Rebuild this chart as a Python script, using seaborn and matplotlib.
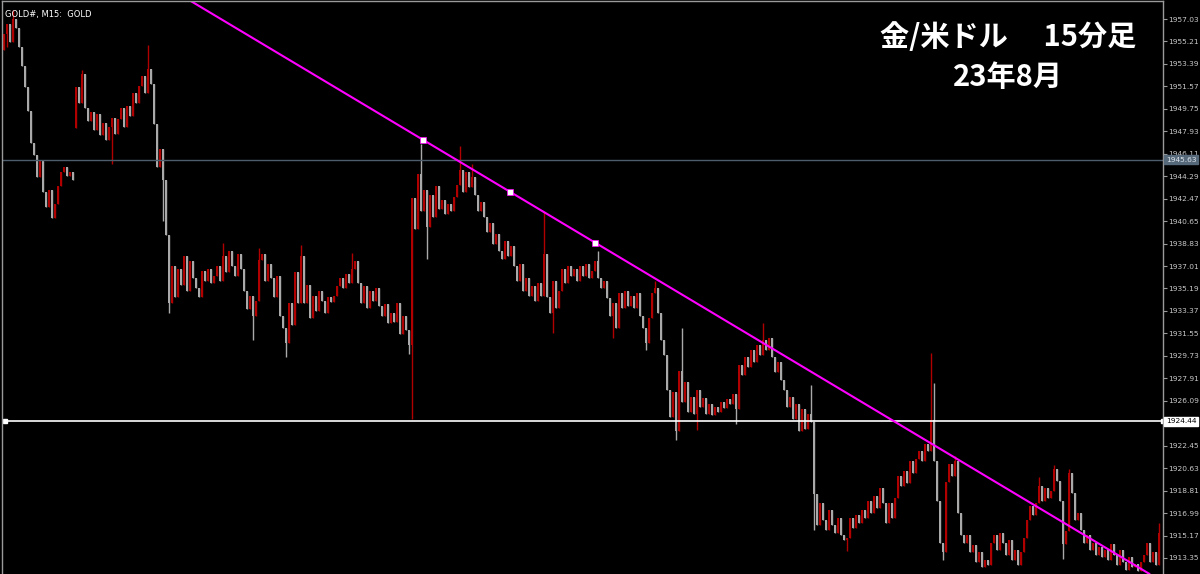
import numpy as np
import matplotlib.pyplot as plt
import seaborn as sns

# GOLD M15 candles (one close per candle, 3px apart)
first_open = 1954.5
closes = [
    1955.8, 1956.6, 1955.2, 1957.0, 1956.3, 1954.8, 1953.2, 1951.5, 1949.6, 1947.0,
    1946.0, 1944.2, 1945.5, 1943.0, 1941.8, 1943.2, 1940.9, 1942.0, 1943.5, 1944.6,
    1945.0, 1944.3, 1944.6, 1944.0, 1951.5, 1950.2, 1952.6, 1949.8, 1948.8, 1949.5,
    1948.0, 1949.3, 1947.6, 1948.6, 1947.2, 1948.3, 1949.0, 1947.7, 1948.9, 1949.8,
    1948.3, 1950.0, 1949.2, 1951.0, 1950.2, 1951.6, 1952.4, 1951.0, 1953.0, 1951.8,
    1948.5, 1945.0, 1946.5, 1944.0, 1939.5, 1934.0, 1937.0, 1934.5, 1936.8, 1935.5,
    1937.8, 1935.0, 1937.4, 1936.0, 1935.2, 1934.5, 1936.6, 1935.8, 1936.8, 1935.6,
    1936.2, 1937.0, 1935.8, 1937.8, 1936.5, 1938.2, 1937.0, 1936.2, 1938.0, 1936.8,
    1935.0, 1933.5, 1934.6, 1933.0, 1934.2, 1937.5, 1938.0, 1935.8, 1937.2, 1936.0,
    1934.5, 1936.2, 1933.0, 1932.0, 1930.8, 1934.0, 1932.2, 1936.5, 1934.0, 1937.8,
    1934.0, 1935.5, 1932.8, 1934.6, 1933.4, 1935.0, 1934.2, 1933.2, 1934.5, 1934.1,
    1934.6, 1935.4, 1936.0, 1935.2, 1936.4, 1935.6, 1936.8, 1937.4, 1935.6, 1934.0,
    1935.4, 1933.6, 1935.0, 1934.2, 1935.2, 1933.8, 1933.0, 1933.9, 1932.4, 1933.2,
    1932.5, 1934.0, 1931.5, 1933.0, 1931.8, 1930.6, 1942.5, 1940.0, 1944.5, 1941.5,
    1943.2, 1940.2, 1942.8, 1941.0, 1943.5, 1941.6, 1942.4, 1941.2, 1942.0, 1941.5,
    1942.6, 1943.6, 1944.8, 1943.0, 1944.6, 1943.4, 1944.2, 1942.8, 1941.5, 1942.2,
    1941.0, 1939.8, 1940.5, 1938.8, 1939.6, 1938.2, 1937.6, 1939.0, 1937.8, 1938.6,
    1937.0, 1935.8, 1937.2, 1935.0, 1936.0, 1934.6, 1935.4, 1934.2, 1935.6, 1934.6,
    1938.0, 1934.5, 1933.2, 1935.8, 1933.6, 1935.0, 1936.8, 1935.6, 1937.0, 1936.2,
    1936.8, 1935.8, 1937.0, 1936.2, 1937.2, 1936.0, 1936.6, 1937.4, 1936.0, 1935.2,
    1935.8, 1934.4, 1933.0, 1934.0, 1932.0, 1934.8, 1933.6, 1935.0, 1933.8, 1934.6,
    1933.6, 1934.8, 1933.0, 1932.0, 1930.8, 1932.8, 1934.8, 1935.2, 1933.2, 1931.0,
    1929.8, 1927.0, 1924.8, 1926.8, 1923.6, 1928.5, 1926.0, 1927.6, 1925.2, 1926.4,
    1925.0, 1927.0, 1925.6, 1926.3, 1925.0, 1925.8, 1924.9, 1925.6, 1925.2, 1926.0,
    1925.5, 1926.2, 1925.8, 1926.6, 1925.4, 1929.0, 1928.2, 1929.6, 1928.8, 1930.2,
    1929.2, 1930.6, 1929.8, 1931.0, 1930.2, 1931.2, 1929.6, 1928.4, 1929.2, 1927.8,
    1927.0, 1925.6, 1926.4, 1924.6, 1925.8, 1923.6, 1925.4, 1923.8, 1925.0, 1924.4,
    1918.5, 1916.0, 1917.8, 1916.4, 1915.6, 1917.2, 1916.0, 1915.4, 1916.6, 1915.2,
    1914.8, 1915.0, 1916.6, 1915.8, 1916.8, 1916.2, 1917.2, 1916.6, 1918.0, 1917.0,
    1918.4, 1917.4, 1919.0, 1917.8, 1916.2, 1917.8, 1916.6, 1918.2, 1920.0, 1919.2,
    1920.4, 1919.4, 1921.2, 1920.2, 1921.4, 1922.0, 1921.2, 1922.6, 1922.0, 1924.5,
    1921.2, 1918.0, 1914.6, 1913.8, 1919.5, 1921.0, 1920.0, 1921.2, 1917.0, 1915.2,
    1914.6, 1915.2, 1913.8, 1914.4, 1913.0, 1913.8, 1912.6, 1913.2, 1912.8, 1914.6,
    1915.2, 1914.0, 1915.4, 1914.6, 1913.6, 1914.8, 1913.2, 1914.0, 1912.8, 1913.8,
    1915.0, 1916.4, 1917.6, 1916.8, 1917.8, 1919.2, 1918.0, 1919.0, 1918.2, 1918.8,
    1920.6, 1919.6, 1918.0, 1914.5, 1915.5, 1920.2, 1918.6, 1916.4, 1917.0, 1915.6,
    1914.6, 1915.2, 1914.0, 1914.6, 1913.6, 1914.2, 1913.4, 1914.0, 1913.2, 1914.5,
    1913.6, 1912.8, 1914.0, 1913.0, 1912.4, 1913.4, 1912.6, 1912.9, 1912.3, 1913.0,
    1913.6, 1914.6, 1913.0, 1913.8, 1912.8, 1915.4,
]
# opens that don't follow the previous close (price gap)
open_gaps = {24: 1948.2}
# long wicks
high_spikes = {3: 1957.8, 26: 1952.9, 48: 1954.9, 73: 1938.9, 85: 1938.5, 99: 1938.7,
               116: 1938.1, 139: 1946.9, 152: 1946.7, 156: 1945.3, 180: 1941.4,
               198: 1938.2, 217: 1935.8, 226: 1932.0, 253: 1932.4, 269: 1927.4,
               309: 1930.0, 310: 1927.5, 317: 1921.6, 345: 1919.9, 350: 1920.9,
               355: 1920.6, 385: 1916.2}
low_spikes = {1: 1954.8, 36: 1945.3, 53: 1940.7, 55: 1933.2, 83: 1931.0, 94: 1929.6,
              135: 1929.9, 136: 1924.6, 141: 1937.6, 183: 1931.6, 203: 1931.2,
              214: 1930.2, 224: 1922.9, 231: 1923.7, 244: 1924.2, 270: 1915.6,
              281: 1913.9, 313: 1913.2, 353: 1913.3}

# price levels / trendline anchors
bid_price = 1945.63
level_price = 1924.44
trend_idx = [139.67, 168.67, 197.0]
trend_price = [1947.24, 1943.04, 1938.91]

tick_labels = ["1957.03", "1955.21", "1953.39", "1951.57", "1949.75", "1947.93",
               "1946.11", "1944.29", "1942.47", "1940.65", "1938.83", "1937.01",
               "1935.19", "1933.37", "1931.55", "1929.73", "1927.91", "1926.09",
               "1922.45", "1920.63", "1918.81", "1916.99", "1915.17", "1913.35"]

sns.set_theme(style="dark", rc={"axes.facecolor": "black", "figure.facecolor": "black"})
plt.rcParams['font.family'] = ['DejaVu Sans', 'Noto Sans CJK JP']

closes = np.array(closes)
n = len(closes)
idx = np.arange(n)
opens = np.concatenate([[first_open], closes[:-1]])
for k, v in open_gaps.items():
    opens[k] = v
body_lo = np.minimum(opens, closes)
body_hi = np.maximum(opens, closes)
highs = body_hi.copy()
lows = body_lo.copy()
for k, v in high_spikes.items():
    highs[k] = v
for k, v in low_spikes.items():
    lows[k] = v
up = closes >= opens
colors = np.where(up, "#b00000", "#a9a9a9")

fig = plt.figure(figsize=(12, 5.74), dpi=100)
ax = fig.add_axes([2 / 1200, 0, 1161 / 1200, 573 / 574])
ax.set_facecolor("black")

ax.vlines(idx, lows, highs, colors=colors, linewidth=1.0)
heights = np.maximum(body_hi - body_lo, 0.09)
ax.bar(idx, heights, bottom=body_lo, width=0.72, color=colors, linewidth=0)

# horizontal lines
ax.axhline(bid_price, color="#4d5d6c", lw=1.0)
ax.axhline(level_price, color="white", lw=1.2)
ax.plot([0.3], [level_price], marker="s", ms=3.5, color="white", mec="white")

# trendline
ax.axline((trend_idx[0], trend_price[0]), (trend_idx[-1], trend_price[-1]),
          color="#ff00ff", lw=1.5)
sns.scatterplot(x=trend_idx, y=trend_price, marker="s", s=14, color="white",
                edgecolor="#ff00ff", linewidth=0.5, ax=ax, zorder=5)

ax.set_xlim(-2 / 3, 386.33)
ax.set_ylim(1912.05, 1958.49)
ax.set_xticks([])
ax.yaxis.tick_right()
ax.set_yticks([float(t) for t in tick_labels])
ax.set_yticklabels(tick_labels)
ax.tick_params(axis="y", direction="out", length=3, width=0.8, color="#9a9a9a",
               labelcolor="#c8c8c8", labelsize=5.4, pad=1, right=True)
ax.grid(False)
for side in ["left", "top", "right"]:
    ax.spines[side].set_visible(True)
    ax.spines[side].set_color("#9a9a9a")
    ax.spines[side].set_linewidth(1.0)
ax.spines["bottom"].set_visible(False)

# price boxes on the axis
ax.annotate(f"{bid_price:.2f}", xy=(1.0, bid_price), xycoords=("axes fraction", "data"),
            xytext=(2, 0), textcoords="offset points", va="center", ha="left",
            fontsize=5.4, color="#dde3ea", zorder=10,
            bbox=dict(boxstyle="square,pad=0.2", fc="#56697b", ec="#56697b"))
ax.annotate(f"{level_price:.2f}", xy=(1.0, level_price), xycoords=("axes fraction", "data"),
            xytext=(2, 0), textcoords="offset points", va="center", ha="left",
            fontsize=5.4, color="black", zorder=10,
            bbox=dict(boxstyle="square,pad=0.2", fc="white", ec="white"))
ax.plot([1.0], [level_price], marker="s", ms=3.5, color="white",
        transform=ax.get_yaxis_transform(), clip_on=False)

ax.text(0.003, 0.985, "GOLD#, M15:  GOLD", transform=ax.transAxes, color="white",
        fontsize=6.0, va="top", ha="left")

cjk = ["Noto Sans CJK JP", "DejaVu Sans"]
fig.text(1008 / 1200, 1 - 37 / 574, "金/米ドル　 15分足", color="white", fontsize=21,
         fontweight="bold", ha="center", va="center", family=cjk)
fig.text(1008 / 1200, 1 - 77 / 574, "23年8月", color="white", fontsize=21,
         fontweight="bold", ha="center", va="center", family=cjk)

fig.savefig("out.png", dpi=100, facecolor="black")
